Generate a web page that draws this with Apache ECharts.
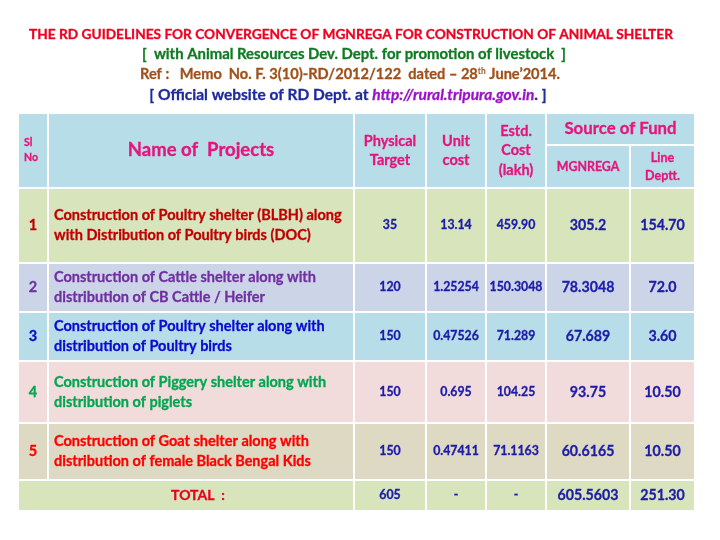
<!DOCTYPE html>
<html>
<head>
<meta charset="utf-8">
<script src="https://cdn.jsdelivr.net/npm/echarts@6/dist/echarts.min.js"></script>
<style>
  html, body { margin: 0; background: #fff; }
  #chart { width: 720px; height: 540px; }
</style>
</head>
<body>
<div id="chart"></div>
<script>
// table content
const titleLines = [
  'THE RD GUIDELINES FOR CONVERGENCE OF MGNREGA FOR CONSTRUCTION OF ANIMAL SHELTER',
  '[  with Animal Resources Dev. Dept. for promotion of livestock  ]'
]
const refText = ['Ref :   Memo  No. F. 3(10)-RD/2012/122  dated \u2013 28', 'th', ' June\u20192014.']
const siteText = ['[ Official website of RD Dept. at ', 'http://rural.tripura.gov.in', '. ]']

const headers = ['Sl\nNo', 'Name of  Projects', 'Physical\nTarget', 'Unit\ncost', 'Estd.\nCost\n(lakh)']
const fundHeaders = ['Source of Fund', 'MGNREGA', 'Line\nDeptt.']

const slNo = ['1', '2', '3', '4', '5']
const projects = [
  'Construction of Poultry shelter (BLBH) along\nwith Distribution of Poultry birds (DOC)',
  'Construction of Cattle shelter along with\ndistribution of CB Cattle / Heifer',
  'Construction of Poultry shelter along with\ndistribution of Poultry birds',
  'Construction of Piggery shelter along with\ndistribution of piglets',
  'Construction of Goat shelter along with\ndistribution of female Black Bengal Kids'
]
const physicalTarget = ['35', '120', '150', '150', '150']
const unitCost = ['13.14', '1.25254', '0.47526', '0.695', '0.47411']
const estdCost = ['459.90', '150.3048', '71.289', '104.25', '71.1163']
const mgnrega = ['305.2', '78.3048', '67.689', '93.75', '60.6165']
const lineDept = ['154.70', '72.0', '3.60', '10.50', '10.50']
const totalLabel = 'TOTAL  :'
const totals = ['605', '-', '-', '605.5603', '251.30']

// layout
const colEdges = [18, 48, 354, 426, 486, 546, 630, 695]
const rowEdges = [113, 188, 263, 312, 361, 423, 480, 511]
const fundSplit = 145
const rowFills = ['#d7e4bc', '#ccd5e8', '#b7dee8', '#f2dcdb', '#ddd9c3']
const nameColors = ['#c00000', '#7030a0', '#0a0ad0', '#00a650', '#ff0000']
const headFill = '#b7dde8'
const headColor = '#e5157c'
const numColor = '#1c1caa'
const FONT = 'Lato, "Open Sans", sans-serif'
const HEAVY = 0.3 // thin same-colour outline to thicken the glyphs a little

function font(size) { return 'bold ' + size + 'px ' + FONT }

const cells = []
function addCell(c0, c1, y0, y1, fill, text, color, size, opts) {
  cells.push(Object.assign({
    x0: colEdges[c0], x1: colEdges[c1], y0, y1, fill, text, color, size,
    align: 'center', lineHeight: Math.round(size * 1.45), shift: 0
  }, opts || {}))
}

// header
addCell(0, 1, rowEdges[0], rowEdges[1], headFill, headers[0], headColor, 10.5, { align: 'left', pad: 6, lineHeight: 15 })
addCell(1, 2, rowEdges[0], rowEdges[1], headFill, headers[1], headColor, 18.5)
addCell(2, 3, rowEdges[0], rowEdges[1], headFill, headers[2], headColor, 14.5, { lineHeight: 19 })
addCell(3, 4, rowEdges[0], rowEdges[1], headFill, headers[3], headColor, 14.5, { lineHeight: 19 })
addCell(4, 5, rowEdges[0], rowEdges[1], headFill, headers[4], headColor, 14.5, { lineHeight: 19.5 })
addCell(5, 7, rowEdges[0], fundSplit, headFill, fundHeaders[0], headColor, 16.8)
addCell(5, 6, fundSplit, rowEdges[1], headFill, fundHeaders[1], headColor, 12.4)
addCell(6, 7, fundSplit, rowEdges[1], headFill, fundHeaders[2], headColor, 12.5, { lineHeight: 18 })

// body rows
slNo.forEach((n, i) => {
  const y0 = rowEdges[i + 1], y1 = rowEdges[i + 2], f = rowFills[i]
  addCell(0, 1, y0, y1, f, n, nameColors[i], 14.5)
  addCell(1, 2, y0, y1, f, projects[i], nameColors[i], 14.5, { align: 'left', pad: 6, lineHeight: 20 })
  addCell(2, 3, y0, y1, f, physicalTarget[i], numColor, 12.3)
  addCell(3, 4, y0, y1, f, unitCost[i], numColor, 12.3)
  addCell(4, 5, y0, y1, f, estdCost[i], numColor, 12.3)
  addCell(5, 6, y0, y1, f, mgnrega[i], numColor, 14.2)
  addCell(6, 7, y0, y1, f, lineDept[i], numColor, 14.2)
})

// total row
const ty0 = rowEdges[6], ty1 = rowEdges[7]
addCell(0, 2, ty0, ty1, '#d7e4bc', totalLabel, '#e8001c', 14, { shift: 12 })
totals.forEach((t, j) => {
  addCell(2 + j, 3 + j, ty0, ty1, '#d7e4bc', t, numColor, j < 3 ? 12.3 : 14.2)
})

function titleStyle(text, color, size) {
  return { text, fill: color, stroke: color, lineWidth: HEAVY, font: font(size), align: 'center', verticalAlign: 'middle' }
}

const chart = echarts.init(document.getElementById('chart'))

chart.setOption({
  animation: false,
  backgroundColor: '#ffffff',
  grid: { left: 0, right: 0, top: 0, bottom: 0 },
  xAxis: { type: 'value', min: 0, max: 720, show: false },
  yAxis: { type: 'value', min: 0, max: 540, inverse: true, show: false },
  graphic: [
    { type: 'text', x: 351, y: 35, style: titleStyle(titleLines[0], '#ee0020', 13.7) },
    { type: 'text', x: 354, y: 54, style: titleStyle(titleLines[1], '#107a22', 14.9) },
    {
      type: 'text', x: 350, y: 74,
      style: {
        text: '{a|' + refText[0] + '}{s|' + refText[1] + '}{a|' + refText[2] + '}',
        align: 'center', verticalAlign: 'middle',
        rich: {
          a: { fill: '#a0501a', stroke: '#a0501a', lineWidth: HEAVY, font: font(14.6), verticalAlign: 'bottom' },
          s: { fill: '#a0501a', font: font(8.5), verticalAlign: 'top' }
        }
      }
    },
    {
      type: 'text', x: 348, y: 95,
      style: {
        text: '{a|' + siteText[0] + '}{u|' + siteText[1] + '}{a|' + siteText[2] + '}',
        align: 'center', verticalAlign: 'middle',
        rich: {
          a: { fill: '#1e2a9e', stroke: '#1e2a9e', lineWidth: HEAVY, font: font(15.5) },
          u: { fill: '#9a10c8', stroke: '#9a10c8', lineWidth: HEAVY, font: 'italic bold 15.5px ' + FONT }
        }
      }
    }
  ],
  series: [{
    type: 'custom',
    coordinateSystem: 'cartesian2d',
    silent: true,
    data: cells.map((c, i) => [i]),
    renderItem(params, api) {
      const c = cells[params.dataIndex]
      const p0 = api.coord([c.x0, c.y0])
      const p1 = api.coord([c.x1, c.y1])
      const tx = c.align === 'left' ? p0[0] + c.pad : (p0[0] + p1[0]) / 2 + c.shift
      return {
        type: 'group',
        children: [
          {
            type: 'rect',
            shape: { x: p0[0] + 1, y: p0[1] + 1, width: p1[0] - p0[0] - 2, height: p1[1] - p0[1] - 2 },
            style: { fill: c.fill }
          },
          {
            type: 'text',
            x: tx, y: (p0[1] + p1[1]) / 2,
            style: {
              text: c.text, fill: c.color, stroke: c.color, lineWidth: HEAVY, font: font(c.size),
              align: c.align, verticalAlign: 'middle', lineHeight: c.lineHeight
            }
          }
        ]
      }
    }
  }]
})
</script>
</body>
</html>
